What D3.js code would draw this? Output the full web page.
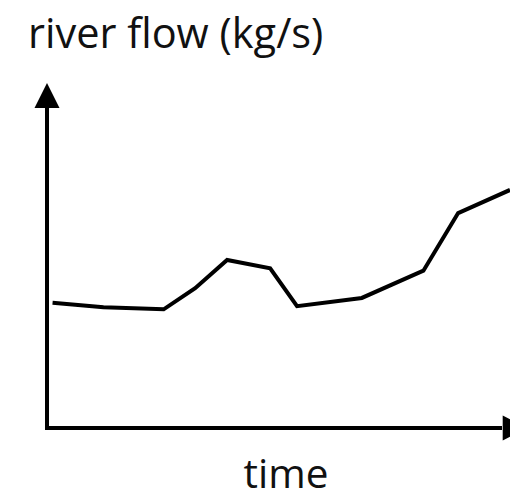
<!DOCTYPE html>
<html>
<head>
<meta charset="utf-8">
<script src="https://cdn.jsdelivr.net/npm/d3@7"></script>
<style>
  html, body { margin: 0; padding: 0; background: #fff; }
  svg { display: block; }
</style>
</head>
<body>
<div id="chart"></div>
<script>
// sketch data, arbitrary units (no ticks on the original)
const times = [0.12, 1.22, 2.52, 3.2, 3.89, 4.82, 5.4, 6.8, 8.13, 8.88, 10];
const flows = [3.63, 3.50, 3.44, 4.05, 4.87, 4.63, 3.53, 3.77, 4.56, 6.23, 6.9];
const yLabel = "river flow (kg/s)";
const xLabel = "time";

const width = 510, height = 499;
const margin = {top: 83, right: 0, bottom: 71, left: 47};

const svg = d3.select("#chart").append("svg")
    .attr("width", width)
    .attr("height", height);

const x = d3.scaleLinear()
    .domain([0, 10])
    .range([margin.left, width - margin.right]);

const y = d3.scaleLinear()
    .domain([0, 10])
    .range([height - margin.bottom, margin.top]);

const x0 = x(0), y0 = y(0);
const arrowLen = 25, arrowHalf = 12.5;

// axes (just lines, no ticks)
svg.append("path")
    .attr("d", `M${x0},${y(10) + arrowLen - 2} L${x0},${y0} L${x(10) - 8},${y0}`)
    .attr("fill", "none")
    .attr("stroke", "#000")
    .attr("stroke-width", 4)
    .attr("stroke-linejoin", "miter");

// up arrow head
svg.append("path")
    .attr("d", `M${x0},${y(10)} L${x0 + arrowHalf},${y(10) + arrowLen} L${x0 - arrowHalf},${y(10) + arrowLen} Z`)
    .attr("fill", "#000");

// right arrow head (runs off the edge)
const ax = 502.7;
svg.append("path")
    .attr("d", `M${ax},${y0 - arrowHalf} L${ax + arrowLen},${y0} L${ax},${y0 + arrowHalf} Z`)
    .attr("fill", "#000");

// the flow line
const line = d3.line()
    .x((d, i) => x(times[i]))
    .y(d => y(d));

svg.append("path")
    .datum(flows)
    .attr("d", line)
    .attr("fill", "none")
    .attr("stroke", "#000")
    .attr("stroke-width", 4)
    .attr("stroke-linejoin", "miter");

// labels
svg.append("text")
    .attr("x", 28)
    .attr("y", 48)
    .attr("font-family", "'Open Sans', sans-serif")
    .attr("font-size", 41.5)
    .attr("fill", "#111")
    .text(yLabel);

svg.append("text")
    .attr("x", 286)
    .attr("y", 488)
    .attr("text-anchor", "middle")
    .attr("font-family", "'Open Sans', sans-serif")
    .attr("font-size", 40.5)
    .attr("fill", "#111")
    .text(xLabel);
</script>
</body>
</html>
